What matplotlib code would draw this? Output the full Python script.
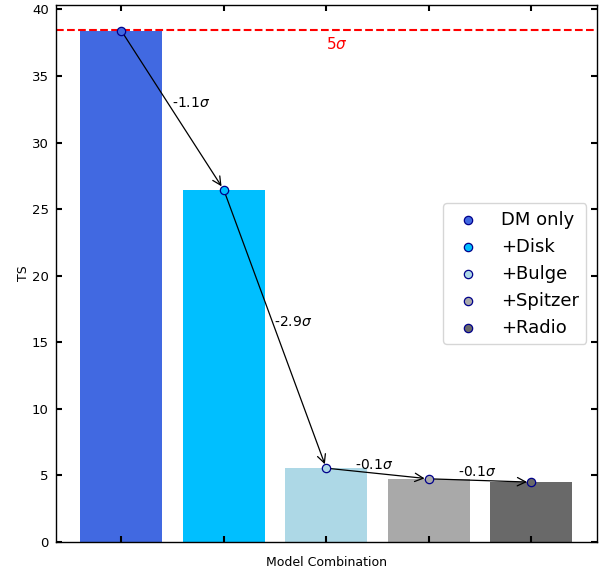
import matplotlib
matplotlib.use("Agg")
import matplotlib.pyplot as plt
import numpy as np

categories = ["DM only", "+Disk", "+Bulge", "+Spitzer", "+Radio"]
ts_values = [38.4, 26.45, 5.55, 4.75, 4.5]
bar_colors = ["royalblue", "deepskyblue", "lightblue", "darkgray", "dimgray"]
sigma_labels = ["-1.1$\\sigma$", "-2.9$\\sigma$", "-0.1$\\sigma$", "-0.1$\\sigma$"]
threshold = 38.45

fig, ax = plt.subplots(figsize=(6.09, 5.73), dpi=100)
fig.subplots_adjust(left=0.0915, right=0.98, top=0.991, bottom=0.054)

x = np.arange(len(categories))
ax.bar(x, ts_values, color=bar_colors, width=0.8)
for i in range(len(categories)):
    ax.scatter(x[i], ts_values[i], color=bar_colors[i], edgecolor="darkblue",
               s=36, zorder=5, label=categories[i], linewidths=0.9)

for i in range(len(categories) - 1):
    ax.annotate("", xy=(x[i + 1], ts_values[i + 1]), xytext=(x[i], ts_values[i]),
                arrowprops=dict(arrowstyle="->", color="black", lw=0.9,
                                shrinkA=3, shrinkB=3, mutation_scale=15), zorder=4)
    mx = (x[i] + x[i + 1]) / 2
    my = (ts_values[i] + ts_values[i + 1]) / 2
    if i < 2:
        ax.text(mx - 0.01, my + 0.55, sigma_labels[i], ha="left", va="center", fontsize=10)
    else:
        ax.text(mx - 0.03, my + 0.6, sigma_labels[i], ha="center", va="center", fontsize=10)

ax.axhline(threshold, color="red", linestyle="--", lw=1.5)
ax.text(2.1, 37.4, "5$\\sigma$", color="red", ha="center", va="center", fontsize=11)

ax.set_xticks(x)
ax.set_xticklabels([])
ax.set_xlabel("Model Combination", fontsize=9, labelpad=5)
ax.set_ylabel("TS", fontsize=9, labelpad=1)
for s in ax.spines.values():
    s.set_linewidth(1.0)
ax.tick_params(direction="in", top=True, right=True, length=4.5, width=1.5, labelsize=9.5, pad=5)
ax.legend(loc="center right", fontsize=13, bbox_to_anchor=(0.997, 0.50))

fig.savefig("out.png", dpi=100)
